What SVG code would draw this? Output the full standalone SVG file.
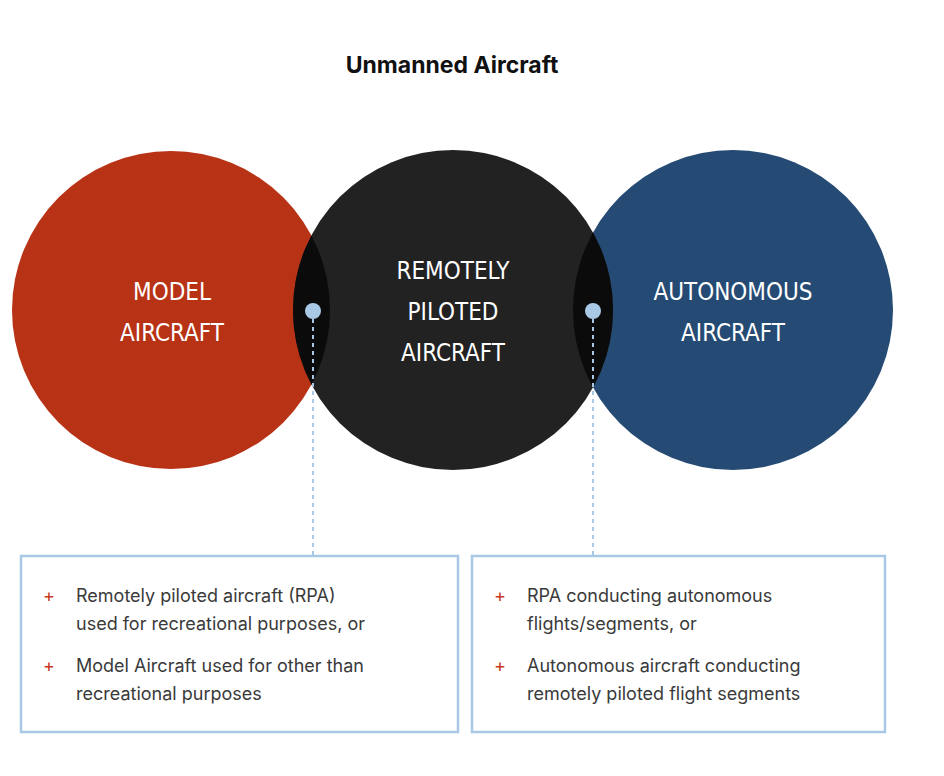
<svg xmlns="http://www.w3.org/2000/svg" width="944" height="776" viewBox="0 0 944 776">
<style>
.lbl{font-family:"DejaVu Sans Condensed","DejaVu Sans",sans-serif;font-size:24px;fill:#fff;text-anchor:middle;font-stretch:condensed}
.body{font-family:Inter,"Noto Sans",sans-serif;font-size:18px;fill:#3a3a3a}
.plus{font-family:Inter,sans-serif;font-size:18px;fill:#c8381c}
.box{fill:#fff;stroke:#a9c8e6;stroke-width:2.5}
.dash{stroke:#a9c8e6;stroke-width:2;stroke-dasharray:4 4}
.dot{fill:#a9c8e6}
</style>
<defs>
<clipPath id="cm"><circle cx="453" cy="310" r="160"/></clipPath>
</defs>
<rect width="944" height="776" fill="#fff"/>
<text x="452" y="73" text-anchor="middle" font-family="Inter,Roboto,sans-serif" font-weight="bold" font-size="23" fill="#111">Unmanned Aircraft</text>
<g id="model"><circle cx="171" cy="310" r="159" fill="#b83216"/></g>
<g id="autonomous"><circle cx="733" cy="310" r="160" fill="#254b74"/></g>
<g id="rpa"><circle cx="453" cy="310" r="160" fill="#222"/></g>
<g clip-path="url(#cm)">
<circle cx="171" cy="310" r="159" fill="#0b0b0b"/>
<circle cx="733" cy="310" r="160" fill="#0b0b0b"/>
</g>
<text class="lbl" x="172" y="300">MODEL</text>
<text class="lbl" x="172" y="341">AIRCRAFT</text>
<text class="lbl" x="453" y="279">REMOTELY</text>
<text class="lbl" x="453" y="320">PILOTED</text>
<text class="lbl" x="453" y="361">AIRCRAFT</text>
<text class="lbl" x="733" y="300">AUTONOMOUS</text>
<text class="lbl" x="733" y="341">AIRCRAFT</text>
<g id="connectors">
<line class="dash" x1="313" y1="311" x2="313" y2="555"/>
<line class="dash" x1="593" y1="311" x2="593" y2="555"/>
<circle class="dot" cx="313" cy="311" r="8"/>
<circle class="dot" cx="593" cy="311" r="8"/>
</g>
<g id="box1">
<rect class="box" x="21" y="556" width="437" height="176"/>
<text class="plus" x="43" y="602">+</text>
<text class="body" x="76" y="602">Remotely piloted aircraft (RPA)</text>
<text class="body" x="76" y="630">used for recreational purposes, or</text>
<text class="plus" x="43" y="672">+</text>
<text class="body" x="76" y="672">Model Aircraft used for other than</text>
<text class="body" x="76" y="700">recreational purposes</text>
</g>
<g id="box2">
<rect class="box" x="472" y="556" width="413" height="176"/>
<text class="plus" x="494" y="602">+</text>
<text class="body" x="527" y="602">RPA conducting autonomous</text>
<text class="body" x="527" y="630">flights/segments, or</text>
<text class="plus" x="494" y="672">+</text>
<text class="body" x="527" y="672">Autonomous aircraft conducting</text>
<text class="body" x="527" y="700">remotely piloted flight segments</text>
</g>
</svg>
